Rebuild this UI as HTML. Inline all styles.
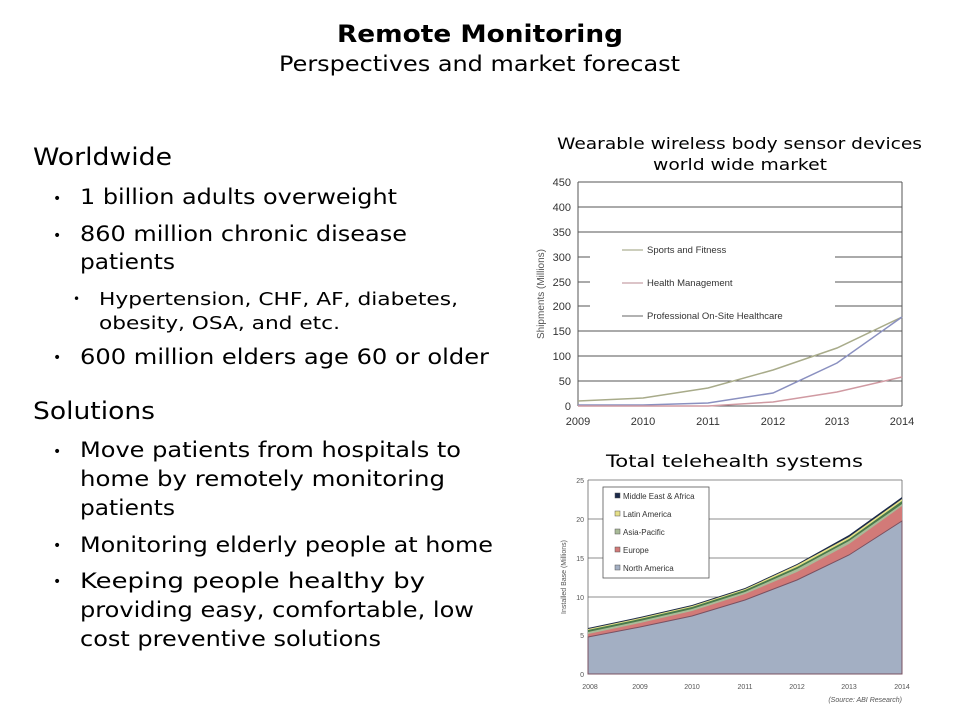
<!DOCTYPE html>
<html><head><style>
body{margin:0;background:#fff;}
svg{display:block;font-family:"DejaVu Sans","Liberation Sans",sans-serif;}
</style></head><body>
<svg width="960" height="720" viewBox="0 0 960 720" xmlns="http://www.w3.org/2000/svg">
<text x="337" y="42" font-size="24" font-weight="bold" fill="#000" textLength="286" lengthAdjust="spacingAndGlyphs">Remote Monitoring</text>
<text x="279" y="71" font-size="21" fill="#000" textLength="401" lengthAdjust="spacingAndGlyphs">Perspectives and market forecast</text>
<g fill="#000" lengthAdjust="spacingAndGlyphs">
<text x="33" y="165" font-size="24" textLength="139" lengthAdjust="spacingAndGlyphs">Worldwide</text>
<text x="53" y="203" font-size="14">•</text><text x="80" y="204" font-size="21" textLength="317" lengthAdjust="spacingAndGlyphs">1 billion adults overweight</text>
<text x="53" y="240" font-size="14">•</text><text x="80" y="241" font-size="21" textLength="327" lengthAdjust="spacingAndGlyphs">860 million chronic disease</text>
<text x="80" y="269" font-size="21" textLength="95" lengthAdjust="spacingAndGlyphs">patients</text>
<text x="73" y="303" font-size="12">•</text><text x="99" y="305" font-size="17.5" textLength="359" lengthAdjust="spacingAndGlyphs">Hypertension, CHF, AF, diabetes,</text>
<text x="99" y="329" font-size="17.5" textLength="241" lengthAdjust="spacingAndGlyphs">obesity, OSA, and etc.</text>
<text x="53" y="362" font-size="14">•</text><text x="80" y="364" font-size="21" textLength="409" lengthAdjust="spacingAndGlyphs">600 million elders age 60 or older</text>
<text x="33" y="419" font-size="24" textLength="122" lengthAdjust="spacingAndGlyphs">Solutions</text>
<text x="53" y="456" font-size="14">•</text><text x="80" y="457" font-size="21" textLength="381" lengthAdjust="spacingAndGlyphs">Move patients from hospitals to</text>
<text x="80" y="486" font-size="21" textLength="365" lengthAdjust="spacingAndGlyphs">home  by remotely monitoring</text>
<text x="80" y="515" font-size="21" textLength="95" lengthAdjust="spacingAndGlyphs">patients</text>
<text x="53" y="550" font-size="14">•</text><text x="80" y="552" font-size="21" textLength="413" lengthAdjust="spacingAndGlyphs">Monitoring elderly people at home</text>
<text x="53" y="586" font-size="14">•</text><text x="80" y="588" font-size="21" textLength="345" lengthAdjust="spacingAndGlyphs">Keeping people healthy by</text>
<text x="80" y="617" font-size="21" textLength="394" lengthAdjust="spacingAndGlyphs">providing easy, comfortable, low</text>
<text x="80" y="646" font-size="21" textLength="301" lengthAdjust="spacingAndGlyphs">cost preventive solutions</text>
</g>
<!-- chart 1 -->
<text x="557" y="149" font-size="16" textLength="365" lengthAdjust="spacingAndGlyphs">Wearable wireless body sensor devices</text>
<text x="653" y="170" font-size="16" textLength="174" lengthAdjust="spacingAndGlyphs">world wide market</text>
<g stroke="#555" stroke-width="1">
<line x1="578" y1="182" x2="902" y2="182"/><line x1="578" y1="207" x2="902" y2="207"/>
<line x1="578" y1="232" x2="902" y2="232"/><line x1="578" y1="257" x2="902" y2="257"/>
<line x1="578" y1="282" x2="902" y2="282"/><line x1="578" y1="306" x2="902" y2="306"/>
<line x1="578" y1="331" x2="902" y2="331"/><line x1="578" y1="356" x2="902" y2="356"/>
<line x1="578" y1="381" x2="902" y2="381"/><line x1="578" y1="406" x2="902" y2="406"/>
<line x1="578" y1="182" x2="578" y2="406"/><line x1="902" y1="182" x2="902" y2="406"/>
</g>
<rect x="590" y="240" width="245" height="90" fill="#fff"/>
<g stroke-width="1" fill="none">
<line x1="622" y1="250" x2="643" y2="250" stroke="#9a9c7a"/>
<line x1="622" y1="283" x2="643" y2="283" stroke="#b88a90"/>
<line x1="622" y1="316" x2="643" y2="316" stroke="#666"/>
</g>
<g font-size="9.5" fill="#333" font-family="Liberation Sans, sans-serif">
<text x="647" y="253">Sports and Fitness</text>
<text x="647" y="286">Health Management</text>
<text x="647" y="319">Professional On-Site Healthcare</text>
</g>
<g font-size="11" fill="#333" text-anchor="end" font-family="Liberation Sans, sans-serif">
<text x="571" y="186">450</text><text x="571" y="211">400</text><text x="571" y="236">350</text>
<text x="571" y="261">300</text><text x="571" y="286">250</text><text x="571" y="310">200</text>
<text x="571" y="335">150</text><text x="571" y="360">100</text><text x="571" y="385">50</text><text x="571" y="410">0</text>
</g>
<g font-size="11" fill="#333" text-anchor="middle" font-family="Liberation Sans, sans-serif">
<text x="578" y="425">2009</text><text x="643" y="425">2010</text><text x="708" y="425">2011</text>
<text x="773" y="425">2012</text><text x="837" y="425">2013</text><text x="902" y="425">2014</text>
</g>
<text transform="translate(544,294) rotate(-90)" font-size="10" fill="#555" text-anchor="middle" font-family="Liberation Sans, sans-serif">Shipments (Millions)</text>
<polyline fill="none" stroke="#a8ab8a" stroke-width="1.5" points="578,401 643,398 708,388 773,370 837,348 902,317"/>
<polyline fill="none" stroke="#8a90c0" stroke-width="1.5" points="578,405 643,405 708,403 773,393 837,363 902,317"/>
<polyline fill="none" stroke="#d09aa2" stroke-width="1.5" points="578,406 643,406 708,406 773,402 837,392 902,377"/>
<!-- chart 2 -->
<text x="606" y="467" font-size="17" textLength="257" lengthAdjust="spacingAndGlyphs">Total telehealth systems</text>
<g stroke="#666" stroke-width="0.8">
<line x1="588" y1="480" x2="902" y2="480"/><line x1="588" y1="519" x2="902" y2="519"/>
<line x1="588" y1="558" x2="902" y2="558"/><line x1="588" y1="597" x2="902" y2="597"/>
<line x1="588" y1="635" x2="902" y2="635"/>
<line x1="588" y1="480" x2="588" y2="674"/><line x1="902" y1="480" x2="902" y2="674"/>
</g>
<polygon fill="#1b2a4a" points="588,628 640,617 692,605 745,588 797,564 849,535 902,497 902,674 588,674"/>
<polygon fill="#e6e088" points="588,629 640,618 692,606 745,589 797,565 849,537 902,499 902,674 588,674"/>
<polygon fill="#4a7a4a" points="588,630 640,619 692,607 745,590 797,567 849,539 902,501 902,674 588,674"/>
<polygon fill="#a9bb98" points="588,632 640,621 692,609 745,592 797,569 849,541 902,504 902,674 588,674"/>
<polygon fill="#d27a78" points="588,634 640,623 692,611 745,594 797,572 849,544 902,506 902,674 588,674"/>
<polygon fill="#a3afc3" stroke="#7a5060" stroke-width="1" points="588,637 640,627 692,616 745,600 797,580 849,555 902,521 902,674 588,674"/>
<rect x="603" y="487" width="106" height="91" fill="#fff" stroke="#555" stroke-width="0.8"/>
<g stroke="#555" stroke-width="0.5">
<rect x="615" y="493" width="5" height="5" fill="#1b2a4a"/>
<rect x="615" y="511" width="5" height="5" fill="#e6e088"/>
<rect x="615" y="529" width="5" height="5" fill="#a9bb98"/>
<rect x="615" y="547" width="5" height="5" fill="#d27a78"/>
<rect x="615" y="565" width="5" height="5" fill="#a3afc3"/>
</g>
<g font-size="8" fill="#333" font-family="Liberation Sans, sans-serif">
<text x="623" y="499">Middle East &amp; Africa</text>
<text x="623" y="517">Latin America</text>
<text x="623" y="535">Asia-Pacific</text>
<text x="623" y="553">Europe</text>
<text x="623" y="571">North America</text>
</g>
<g font-size="7" fill="#555" text-anchor="end" font-family="Liberation Sans, sans-serif">
<text x="584" y="483">25</text><text x="584" y="522">20</text><text x="584" y="561">15</text>
<text x="584" y="600">10</text><text x="584" y="638">5</text><text x="584" y="677">0</text>
</g>
<g font-size="7" fill="#555" text-anchor="middle" font-family="Liberation Sans, sans-serif">
<text x="590" y="689">2008</text><text x="640" y="689">2009</text><text x="692" y="689">2010</text>
<text x="745" y="689">2011</text><text x="797" y="689">2012</text><text x="849" y="689">2013</text><text x="902" y="689">2014</text>
</g>
<text x="902" y="702" font-size="7" font-style="italic" fill="#555" text-anchor="end" font-family="Liberation Sans, sans-serif">(Source: ABI Research)</text>
<text transform="translate(566,577) rotate(-90)" font-size="7" fill="#555" text-anchor="middle" font-family="Liberation Sans, sans-serif">Installed Base (Millions)</text>
</svg>
</body></html>
